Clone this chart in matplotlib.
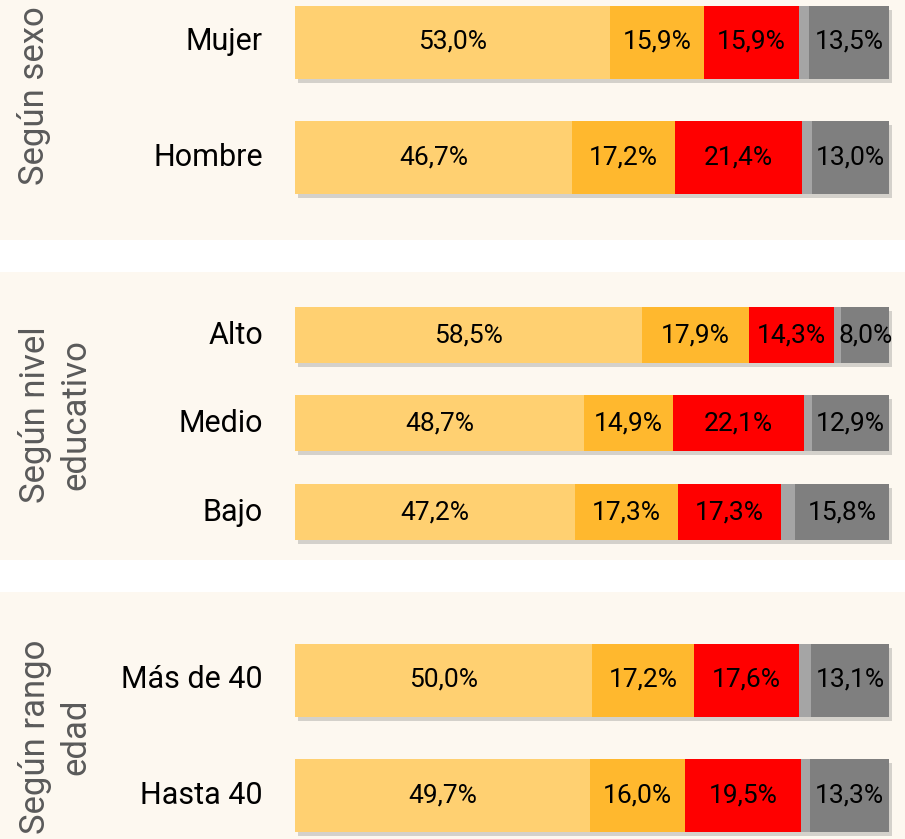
import matplotlib.pyplot as plt
import matplotlib.patheffects as pe

# datos por panel: a=muy favorable, b, c, d=ns/nc (gris claro), e
sexo_cats = ['Mujer', 'Hombre']
sexo_a = [53.0, 46.7]
sexo_b = [15.9, 17.2]
sexo_c = [15.9, 21.4]
sexo_d = [1.7, 1.7]
sexo_e = [13.5, 13.0]

nivel_cats = ['Alto', 'Medio', 'Bajo']
nivel_a = [58.5, 48.7, 47.2]
nivel_b = [17.9, 14.9, 17.3]
nivel_c = [14.3, 22.1, 17.3]
nivel_d = [1.3, 1.4, 2.4]
nivel_e = [8.0, 12.9, 15.8]

edad_cats = ['Más de 40', 'Hasta 40']
edad_a = [50.0, 49.7]
edad_b = [17.2, 16.0]
edad_c = [17.6, 19.5]
edad_d = [2.1, 1.5]
edad_e = [13.1, 13.3]

colors = ['#FFD071', '#FFB82E', '#FF0000', '#A5A5A5', '#7F7F7F']
bg = '#FDF8F0'

W, H = 905, 839
fig = plt.figure(figsize=(W / 100, H / 100), dpi=100, facecolor='white')

# escala: 0% en x=295px, 100% en x=889px
x0, x1 = 295, 889
scale = (x1 - x0) / 100.0


def fmt(v):
    return f'{v:.1f}'.replace('.', ',') + '%'


def panel(top, bottom, title, tx, ty, cats, series, centers, bar_h):
    ax = fig.add_axes([0, 1 - bottom / H, 1, (bottom - top) / H])
    ax.set_facecolor(bg)
    ax.set_xlim(-x0 / scale, (W - x0) / scale)
    ax.set_ylim(bottom, top)
    ax.axis('off')
    ax.add_patch(plt.Rectangle((0, 0), 1, 1, transform=ax.transAxes,
                               color=bg, zorder=0))
    totals = [sum(s[i] for s in series) for i in range(len(cats))]
    # sombra suave bajo cada barra
    ax.barh(centers, totals, height=bar_h, color='#888888', zorder=1,
            path_effects=[pe.SimplePatchShadow(offset=(2.5, -3),
                                               shadow_rgbFace='#777777',
                                               alpha=0.3), pe.Normal()])
    left = [0] * len(cats)
    for k, s in enumerate(series):
        bars = ax.barh(centers, s, left=left, height=bar_h, color=colors[k],
                       zorder=2)
        if k != 3:
            ax.bar_label(bars, labels=[fmt(v) for v in s], label_type='center',
                         fontsize=19, color='black', zorder=3,
                         family='Roboto')
        left = [l + v for l, v in zip(left, s)]
    for c, y in zip(cats, centers):
        ax.text((263 - x0) / scale, y, c, ha='right', va='center',
                fontsize=22, color='black', family='Roboto')
    ax.text((tx - x0) / scale, ty, title, rotation=90, ha='center',
            va='center', multialignment='center', fontsize=25,
            color='#5a5a5a', linespacing=1.3, family='Roboto')


panel(0, 240, 'Según sexo', 34, 96, sexo_cats,
      [sexo_a, sexo_b, sexo_c, sexo_d, sexo_e], [42, 157], 73)
panel(272, 560, 'Según nivel\neducativo', 55, 415, nivel_cats,
      [nivel_a, nivel_b, nivel_c, nivel_d, nivel_e], [335, 423, 512], 56)
panel(592, 839, 'Según rango\nedad', 55, 737, edad_cats,
      [edad_a, edad_b, edad_c, edad_d, edad_e], [680, 795], 73)

fig.savefig('out.png', dpi=100, facecolor='white')
